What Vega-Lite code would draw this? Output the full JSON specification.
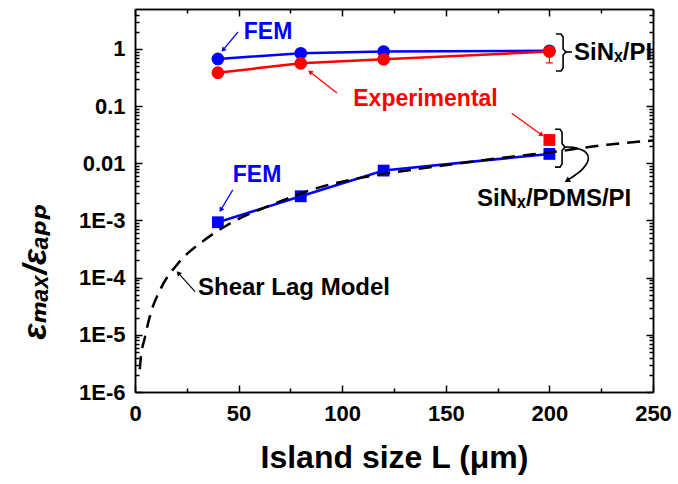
{
  "$schema": "https://vega.github.io/schema/vega-lite/v6.json",
  "width": 518,
  "height": 383,
  "autosize": {"type": "none"},
  "padding": {"left": 135, "top": 9, "right": 25, "bottom": 92},
  "background": "white",
  "config": {
    "view": {"stroke": null},
    "font": "Liberation Sans",
    "axis": {
      "domainColor": "black", "domainWidth": 1.5, "tickColor": "black", "tickWidth": 1.5,
      "labelFont": "Liberation Sans", "labelFontWeight": "bold", "labelFontSize": 22, "labelColor": "black",
      "grid": false, "titleColor": "black", "titleFont": "Liberation Sans", "labelOverlap": false, "labelFlush": false
    }
  },
  "datasets": {
    "curve": [
      {"L": 2.3, "r": 2.5e-6}, {"L": 2.65, "r": 3.5e-6}, {"L": 4.8, "r": 9.1e-6}, {"L": 7.7, "r": 2.45e-5},
      {"L": 12.5, "r": 6.5e-5}, {"L": 20.8, "r": 1.78e-4}, {"L": 32.6, "r": 4.3e-4}, {"L": 44, "r": 8.1e-4},
      {"L": 67, "r": 1.95e-3}, {"L": 89, "r": 3.8e-3}, {"L": 115, "r": 6.1e-3}, {"L": 136, "r": 7.9e-3},
      {"L": 186, "r": 0.0136}, {"L": 200, "r": 0.0155}, {"L": 228, "r": 0.0212}, {"L": 250, "r": 0.025}
    ],
    "feCirc": [{"L": 40, "r": 0.67}, {"L": 80, "r": 0.84}, {"L": 120, "r": 0.9}, {"L": 200, "r": 0.93}],
    "expCirc": [{"L": 40, "r": 0.385}, {"L": 80, "r": 0.56}, {"L": 120, "r": 0.66}, {"L": 200, "r": 0.9}],
    "expErr": [{"L": 120, "lo": 0.55, "hi": 0.75}, {"L": 200, "lo": 0.57, "hi": 1.1}],
    "feSq": [{"L": 40, "r": 9.3e-4}, {"L": 80, "r": 2.65e-3}, {"L": 120, "r": 7.46e-3}, {"L": 200, "r": 0.0146}],
    "expSq": [{"L": 200, "r": 0.0256}],
    "braces": [
      {"part": "u", "s": 1, "L": 203.2, "r": 1.83}, {"part": "u", "s": 2, "L": 205.6, "r": 1.83},
      {"part": "u", "s": 3, "L": 206.6, "r": 1.62}, {"part": "u", "s": 4, "L": 206.6, "r": 1.0},
      {"part": "u", "s": 5, "L": 208.0, "r": 0.887}, {"part": "u", "s": 6, "L": 206.6, "r": 0.785},
      {"part": "u", "s": 7, "L": 206.6, "r": 0.466}, {"part": "u", "s": 8, "L": 205.6, "r": 0.412},
      {"part": "u", "s": 9, "L": 203.2, "r": 0.412},
      {"part": "ut", "s": 1, "L": 208.0, "r": 0.887}, {"part": "ut", "s": 2, "L": 210.9, "r": 0.887},
      {"part": "l", "s": 1, "L": 202.7, "r": 0.0395}, {"part": "l", "s": 2, "L": 205.1, "r": 0.0395},
      {"part": "l", "s": 3, "L": 206.1, "r": 0.0351}, {"part": "l", "s": 4, "L": 206.1, "r": 0.0221},
      {"part": "l", "s": 5, "L": 207.5, "r": 0.0192}, {"part": "l", "s": 6, "L": 206.1, "r": 0.0167},
      {"part": "l", "s": 7, "L": 206.1, "r": 0.00968}, {"part": "l", "s": 8, "L": 205.1, "r": 0.00859},
      {"part": "l", "s": 9, "L": 202.7, "r": 0.00859}
    ],
    "hook": [
      {"s": 1, "L": 207.5, "r": 0.0192}, {"s": 2, "L": 211.5, "r": 0.019}, {"s": 3, "L": 217.7, "r": 0.0154},
      {"s": 4, "L": 218.8, "r": 0.0121}, {"s": 5, "L": 216.2, "r": 0.00807}, {"s": 6, "L": 208.5, "r": 0.0050}
    ],
    "blueArrows": [
      {"L": 49.7, "r": 1.98, "L2": 42.5, "r2": 0.96},
      {"L": 47.2, "r": 0.00343, "L2": 41.4, "r2": 0.00153}
    ],
    "redArrows": [
      {"L": 97.5, "r": 0.17, "L2": 84.5, "r2": 0.396},
      {"L": 181.8, "r": 0.0751, "L2": 196.3, "r2": 0.0314}
    ],
    "blackArrows": [{"L": 29, "r": 5.7e-5, "L2": 20.9, "r2": 1.2e-4}],
    "blueText": [
      {"L": 64.2, "r": 1.98, "label": "FEM"},
      {"L": 58.9, "r": 0.00635, "label": "FEM"}
    ],
    "redText": [{"L": 140.2, "r": 0.134, "label": "Experimental"}],
    "blackText": [
      {"L": 211.9, "r": 0.851, "label": "SiNₓ/PI"},
      {"L": 165.1, "r": 0.00233, "label": "SiNₓ/PDMS/PI"},
      {"L": 30.4, "r": 6.5e-5, "label": "Shear Lag Model"}
    ]
  },
  "resolve": {"axis": {"x": "independent", "y": "independent"}},
  "layer": [
    {
      "data": {"name": "feCirc"},
      "mark": {"type": "line", "color": "#0000ff", "strokeWidth": 2.5},
      "encoding": {
        "x": {"field": "L", "type": "quantitative", "scale": {"domain": [0, 250], "nice": false, "zero": false},
              "axis": {"orient": "bottom", "values": [25, 75, 125, 175, 225], "tickSize": -4, "labels": false, "title": null}},
        "y": {"field": "r", "type": "quantitative", "scale": {"type": "log", "domain": [1e-6, 5], "nice": false},
              "axis": {"orient": "left", "values": [2e-6,3e-6,4e-6,5e-6,6e-6,7e-6,8e-6,9e-6,2e-5,3e-5,4e-5,5e-5,6e-5,7e-5,8e-5,9e-5,2e-4,3e-4,4e-4,5e-4,6e-4,7e-4,8e-4,9e-4,2e-3,3e-3,4e-3,5e-3,6e-3,7e-3,8e-3,9e-3,0.02,0.03,0.04,0.05,0.06,0.07,0.08,0.09,0.2,0.3,0.4,0.5,0.6,0.7,0.8,0.9,2,3,4], "tickSize": -4, "labels": false, "title": null}}
      }
    },
    {
      "data": {"name": "feCirc"},
      "mark": {"type": "point", "shape": "circle", "filled": true, "opacity": 1, "color": "#0000ff", "size": 160},
      "encoding": {
        "x": {"field": "L", "type": "quantitative", "scale": {"domain": [0, 250], "nice": false, "zero": false},
              "axis": {"orient": "top", "values": [0, 50, 100, 150, 200, 250], "tickSize": -7, "labels": false, "title": null}},
        "y": {"field": "r", "type": "quantitative", "scale": {"type": "log", "domain": [1e-6, 5], "nice": false},
              "axis": {"orient": "right", "values": [1e-6, 1e-5, 1e-4, 1e-3, 0.01, 0.1, 1], "tickSize": -7, "labels": false, "title": null}}
      }
    },
    {
      "data": {"name": "expCirc"},
      "mark": {"type": "line", "color": "#ff0000", "strokeWidth": 2.5},
      "encoding": {
        "x": {"field": "L", "type": "quantitative", "scale": {"domain": [0, 250], "nice": false, "zero": false},
              "axis": {"orient": "top", "values": [25, 75, 125, 175, 225], "tickSize": -4, "labels": false, "title": null}},
        "y": {"field": "r", "type": "quantitative", "scale": {"type": "log", "domain": [1e-6, 5], "nice": false},
              "axis": {"orient": "right", "values": [2e-6,3e-6,4e-6,5e-6,6e-6,7e-6,8e-6,9e-6,2e-5,3e-5,4e-5,5e-5,6e-5,7e-5,8e-5,9e-5,2e-4,3e-4,4e-4,5e-4,6e-4,7e-4,8e-4,9e-4,2e-3,3e-3,4e-3,5e-3,6e-3,7e-3,8e-3,9e-3,0.02,0.03,0.04,0.05,0.06,0.07,0.08,0.09,0.2,0.3,0.4,0.5,0.6,0.7,0.8,0.9,2,3,4], "tickSize": -4, "labels": false, "title": null}}
      }
    },
    {
      "data": {"name": "expErr"},
      "mark": {"type": "rule", "color": "#ff0000", "strokeWidth": 1.2},
      "encoding": {
        "x": {"field": "L", "type": "quantitative", "axis": null},
        "y": {"field": "lo", "type": "quantitative", "axis": null},
        "y2": {"field": "hi"}
      }
    },
    {
      "data": {"name": "expErr"},
      "mark": {"type": "point", "shape": "stroke", "color": "#ff0000", "strokeWidth": 1.2, "size": 49, "opacity": 1},
      "encoding": {
        "x": {"field": "L", "type": "quantitative", "axis": null},
        "y": {"field": "lo", "type": "quantitative", "axis": null}
      }
    },
    {
      "data": {"name": "expCirc"},
      "mark": {"type": "point", "shape": "circle", "filled": true, "opacity": 1, "color": "#ff0000", "size": 160},
      "encoding": {
        "x": {"field": "L", "type": "quantitative", "axis": null},
        "y": {"field": "r", "type": "quantitative", "axis": null}
      }
    },
    {
      "data": {"name": "feSq"},
      "mark": {"type": "line", "color": "#0000ff", "strokeWidth": 2.5},
      "encoding": {
        "x": {"field": "L", "type": "quantitative", "axis": null},
        "y": {"field": "r", "type": "quantitative", "axis": null}
      }
    },
    {
      "data": {"name": "feSq"},
      "mark": {"type": "point", "shape": "square", "filled": true, "opacity": 1, "color": "#0000ff", "size": 140},
      "encoding": {
        "x": {"field": "L", "type": "quantitative", "axis": null},
        "y": {"field": "r", "type": "quantitative", "axis": null}
      }
    },
    {
      "data": {"name": "expSq"},
      "mark": {"type": "point", "shape": "square", "filled": true, "opacity": 1, "color": "#ff0000", "size": 140},
      "encoding": {
        "x": {"field": "L", "type": "quantitative", "axis": null},
        "y": {"field": "r", "type": "quantitative", "axis": null}
      }
    },
    {
      "data": {"name": "curve"},
      "mark": {"type": "line", "color": "black", "strokeWidth": 2.5, "strokeDash": [13, 8], "interpolate": "monotone"},
      "encoding": {
        "x": {"field": "L", "type": "quantitative", "scale": {"domain": [0, 250], "nice": false, "zero": false},
              "axis": {"orient": "bottom", "values": [0, 50, 100, 150, 200, 250], "tickSize": -7, "labelPadding": 18,
                       "title": "Island size L (μm)", "titleFontSize": 32, "titleFontWeight": "bold", "titleY": 75, "titleBaseline": "alphabetic"}},
        "y": {"field": "r", "type": "quantitative", "scale": {"type": "log", "domain": [1e-6, 5], "nice": false},
              "axis": {"orient": "left", "values": [1e-6, 1e-5, 1e-4, 1e-3, 0.01, 0.1, 1], "tickSize": -7, "labelPadding": 17,
                       "labelExpr": "datum.value >= 0.99 ? '1' : datum.value >= 0.099 ? '0.1' : datum.value >= 0.0099 ? '0.01' : '1E-' + round(-log(datum.value)/LN10)",
                       "title": "εₘₐₓ/εₐₚₚ", "titleFont": "Liberation Sans, DejaVu Sans", "titleFontSize": 34, "titleFontWeight": "bold", "titleFontStyle": "italic",
                       "titleX": -100, "titleY": 262, "titleBaseline": "middle", "titleAlign": "center", "titleAngle": -90}}
      }
    },
    {
      "data": {"name": "braces"},
      "mark": {"type": "line", "color": "black", "strokeWidth": 1.6},
      "encoding": {
        "x": {"field": "L", "type": "quantitative", "axis": null},
        "y": {"field": "r", "type": "quantitative", "axis": null},
        "detail": {"field": "part"},
        "order": {"field": "s", "type": "quantitative"}
      }
    },
    {
      "data": {"name": "hook"},
      "mark": {"type": "line", "color": "black", "strokeWidth": 1.6, "interpolate": "catmull-rom"},
      "encoding": {
        "x": {"field": "L", "type": "quantitative", "axis": null},
        "y": {"field": "r", "type": "quantitative", "axis": null},
        "order": {"field": "s", "type": "quantitative"}
      }
    },
    {
      "data": {"name": "blueArrows"},
      "mark": {"type": "rule", "color": "#0000ff", "strokeWidth": 1.2},
      "encoding": {
        "x": {"field": "L", "type": "quantitative", "axis": null},
        "y": {"field": "r", "type": "quantitative", "axis": null},
        "x2": {"field": "L2"}, "y2": {"field": "r2"}
      }
    },
    {
      "data": {"name": "redArrows"},
      "mark": {"type": "rule", "color": "#ff0000", "strokeWidth": 1.2},
      "encoding": {
        "x": {"field": "L", "type": "quantitative", "axis": null},
        "y": {"field": "r", "type": "quantitative", "axis": null},
        "x2": {"field": "L2"}, "y2": {"field": "r2"}
      }
    },
    {
      "data": {"name": "blackArrows"},
      "mark": {"type": "rule", "color": "black", "strokeWidth": 1.2},
      "encoding": {
        "x": {"field": "L", "type": "quantitative", "axis": null},
        "y": {"field": "r", "type": "quantitative", "axis": null},
        "x2": {"field": "L2"}, "y2": {"field": "r2"}
      }
    },
    {
      "data": {"values": [{"L": 42.5, "r": 0.96}]},
      "mark": {"type": "point", "shape": "triangle-up", "filled": true, "opacity": 1, "color": "#0000ff", "size": 30, "angle": 220},
      "encoding": {"x": {"field": "L", "type": "quantitative", "axis": null}, "y": {"field": "r", "type": "quantitative", "axis": null}}
    },
    {
      "data": {"values": [{"L": 41.4, "r": 0.00153}]},
      "mark": {"type": "point", "shape": "triangle-up", "filled": true, "opacity": 1, "color": "#0000ff", "size": 30, "angle": 211},
      "encoding": {"x": {"field": "L", "type": "quantitative", "axis": null}, "y": {"field": "r", "type": "quantitative", "axis": null}}
    },
    {
      "data": {"values": [{"L": 84.5, "r": 0.396}]},
      "mark": {"type": "point", "shape": "triangle-up", "filled": true, "opacity": 1, "color": "#ff0000", "size": 30, "angle": 308},
      "encoding": {"x": {"field": "L", "type": "quantitative", "axis": null}, "y": {"field": "r", "type": "quantitative", "axis": null}}
    },
    {
      "data": {"values": [{"L": 196.3, "r": 0.0314}]},
      "mark": {"type": "point", "shape": "triangle-up", "filled": true, "opacity": 1, "color": "#ff0000", "size": 30, "angle": 126},
      "encoding": {"x": {"field": "L", "type": "quantitative", "axis": null}, "y": {"field": "r", "type": "quantitative", "axis": null}}
    },
    {
      "data": {"values": [{"L": 20.9, "r": 1.2e-4}]},
      "mark": {"type": "point", "shape": "triangle-up", "filled": true, "opacity": 1, "color": "black", "size": 30, "angle": 318},
      "encoding": {"x": {"field": "L", "type": "quantitative", "axis": null}, "y": {"field": "r", "type": "quantitative", "axis": null}}
    },
    {
      "data": {"values": [{"L": 208.5, "r": 0.0050}]},
      "mark": {"type": "point", "shape": "triangle-up", "filled": true, "opacity": 1, "color": "black", "size": 40, "angle": 240},
      "encoding": {"x": {"field": "L", "type": "quantitative", "axis": null}, "y": {"field": "r", "type": "quantitative", "axis": null}}
    },
    {
      "data": {"name": "blueText"},
      "mark": {"type": "text", "color": "#0000ff", "font": "Liberation Sans", "fontWeight": "bold", "fontSize": 23, "align": "center", "baseline": "middle"},
      "encoding": {
        "x": {"field": "L", "type": "quantitative", "axis": null},
        "y": {"field": "r", "type": "quantitative", "axis": null},
        "text": {"field": "label"}
      }
    },
    {
      "data": {"name": "redText"},
      "mark": {"type": "text", "color": "#ff0000", "font": "Liberation Sans", "fontWeight": "bold", "fontSize": 23, "align": "center", "baseline": "middle"},
      "encoding": {
        "x": {"field": "L", "type": "quantitative", "axis": null},
        "y": {"field": "r", "type": "quantitative", "axis": null},
        "text": {"field": "label"}
      }
    },
    {
      "data": {"name": "blackText"},
      "mark": {"type": "text", "color": "black", "font": "Liberation Sans, DejaVu Sans", "fontWeight": "bold", "fontSize": 24, "align": "left", "baseline": "middle"},
      "encoding": {
        "x": {"field": "L", "type": "quantitative", "axis": null},
        "y": {"field": "r", "type": "quantitative", "axis": null},
        "text": {"field": "label"}
      }
    }
  ]
}
